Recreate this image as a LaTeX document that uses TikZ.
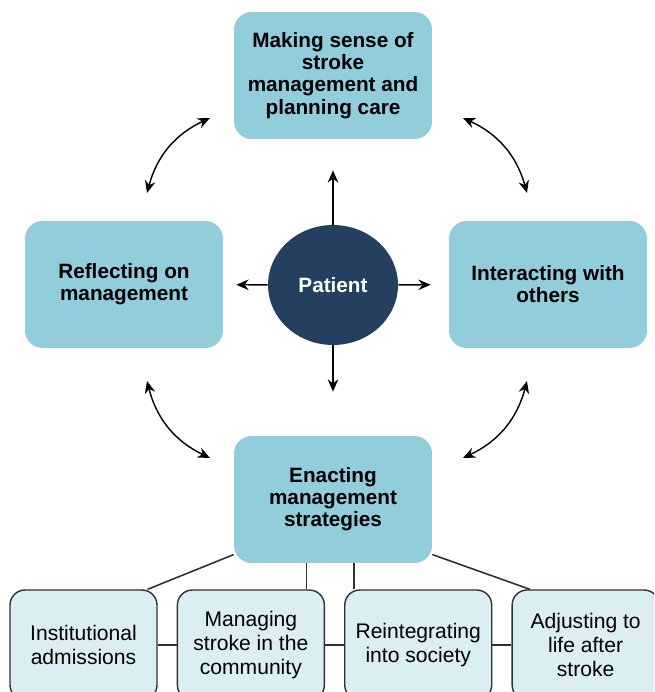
\documentclass[tikz,border=0pt]{standalone}
\usepackage{fontspec}
\setmainfont{Liberation Sans}
\usetikzlibrary{shapes.geometric,arrows.meta,positioning,calc}
\definecolor{boxblue}{HTML}{92CDDC}
\definecolor{paleblue}{HTML}{DAEEF3}
\definecolor{hubblue}{HTML}{243F60}
\definecolor{edgegrey}{HTML}{303030}
\tikzset{
    mainbox/.style={
        rectangle,
        rounded corners=3.5mm,    % soft corners on the four themes
        fill=boxblue,             % no outline, just the fill
        minimum width=3.96cm,
        minimum height=2.54cm,
        align=center,
        font=\fontsize{11.8}{12.6}\selectfont\bfseries
    },
    subbox/.style={
        rectangle,
        rounded corners=3mm,
        draw=edgegrey,            % thin dark outline
        line width=0.8pt,
        fill=paleblue,            % lighter than the main boxes
        minimum width=2.94cm,
        minimum height=2.2cm,
        align=center,
        font=\fontsize{12}{13.6}\selectfont
    },
    hub/.style={
        ellipse,
        fill=hubblue,
        minimum width=2.6cm,
        minimum height=2.4cm,
        text=white,
        font=\fontsize{11.8}{12.6}\selectfont\bfseries
    },
    link/.style={line width=0.8pt, -{Stealth[length=7pt,width=6pt]}},
    twoway/.style={line width=0.8pt, {Stealth[length=7pt,width=6pt]}-{Stealth[length=7pt,width=6pt]}},
    tie/.style={line width=0.9pt, draw=edgegrey}
}

\begin{document}
\begin{tikzpicture}[x=0.02cm, y=0.02cm]
    \path[use as bounding box, clip] (0,0) rectangle (654,-692);

    % centre and the four themes around it
    \node[hub] (patient) at (333,-285) {Patient};
    \node[mainbox] (making) at (333,-75.5) {Making sense of\\stroke\\management and\\planning care};
    \node[mainbox] (reflecting) at (124,-284.5) {Reflecting on\\management};
    \node[mainbox] (interacting) at (548,-284.5) {Interacting with\\others};
    \node[mainbox] (enacting) at (333,-499.5) {Enacting\\management\\strategies};

    % strategies row
    \node[subbox] (inst) at (83.5,-645) {Institutional\\admissions};
    \node[subbox, right=0.38cm of inst] (community) {Managing\\stroke in the\\community};
    \node[subbox, right=0.38cm of community] (society) {Reintegrating\\into society};
    \node[subbox, right=0.38cm of society] (adjusting) {Adjusting to\\life after\\stroke};

    \draw[link, shorten >=0.62cm] (patient) -- (making);
    \draw[link, shorten >=0.26cm] (patient) -- (reflecting);
    \draw[link, shorten >=0.36cm] (patient) -- (interacting);
    \draw[link, shorten >=0.88cm] (patient) -- (enacting);

    % curved links between neighbouring themes
    \coordinate (tl1) at (210,-118);
    \coordinate (tl2) at (147,-193);
    \coordinate (tr1) at (463,-118);
    \coordinate (tr2) at (527,-193);
    \coordinate (bl1) at (147,-381);
    \coordinate (bl2) at (210,-458);
    \coordinate (br1) at (527,-381);
    \coordinate (br2) at (463,-458);
    \draw[twoway] (tl1) to[bend right=25] (tl2);
    \draw[twoway] (tr1) to[bend left=25] (tr2);
    \draw[twoway] (bl1) to[bend right=25] (bl2);
    \draw[twoway] (br1) to[bend left=25] (br2);

    \draw[tie] (enacting.209) -- (inst.41);
    \draw[tie] (enacting.-29) -- (adjusting.135);
    \draw[tie] (community.45) -- (community.45 |- enacting.south);
    \draw[tie] (society.139) -- (society.139 |- enacting.south);
    \draw[tie] (inst) -- (community);
    \draw[tie] (community) -- (society);
    \draw[tie] (society) -- (adjusting);
\end{tikzpicture}
\end{document}
